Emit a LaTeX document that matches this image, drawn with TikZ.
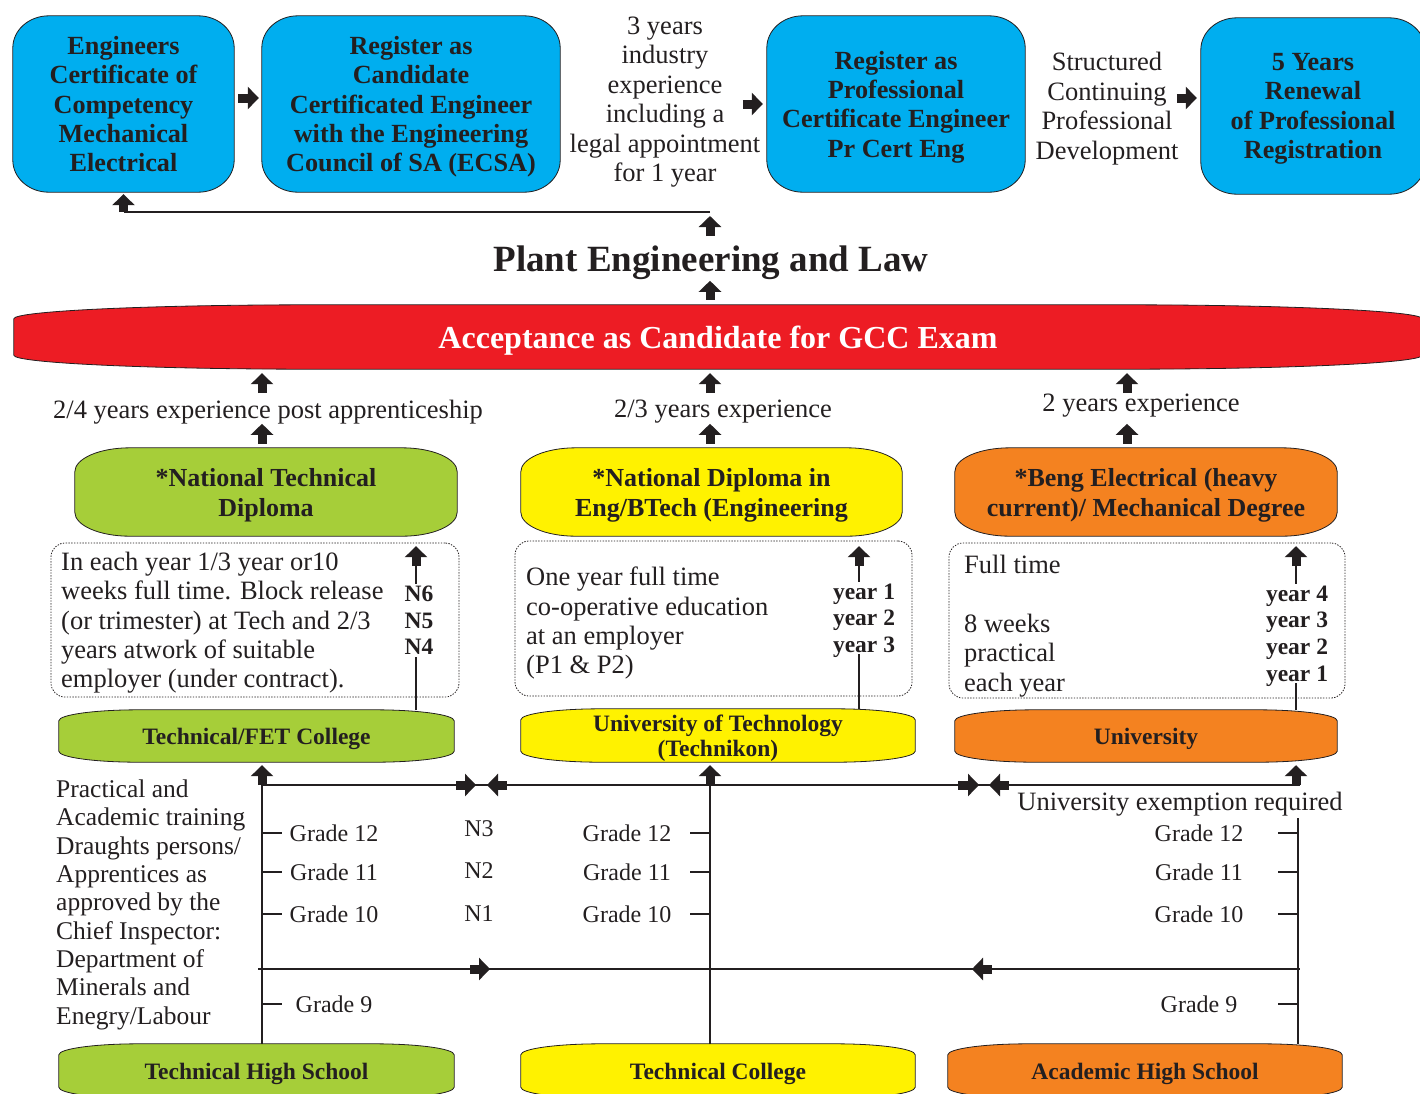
\documentclass[tikz,border=0pt]{standalone}
\usepackage{fontspec}
\setmainfont{Liberation Serif}
\usetikzlibrary{arrows.meta,calc,backgrounds}
\definecolor{ecsablue}{RGB}{0,174,239}
\definecolor{ntdgreen}{RGB}{166,206,57}
\definecolor{ndipyellow}{RGB}{255,242,0}
\definecolor{bengorange}{RGB}{244,130,32}
\definecolor{gccred}{RGB}{237,28,36}
\definecolor{ink}{RGB}{35,31,32}

\begin{document}
\begin{tikzpicture}
	[x=1pt,y=1pt,every node/.style={text=ink,inner sep=0pt,text depth=0pt},
	bodytext/.style={font=\fontsize{26.5}{29.5}\selectfont},
	boldtext/.style={font=\fontsize{26.2}{29.3}\selectfont\bfseries,align=center},
	smallbold/.style={font=\fontsize{23.5}{26.7}\selectfont\bfseries,align=center},
	grade/.style={font=\fontsize{24}{28}\selectfont},
	link/.style={draw=ink,line width=1.4pt},
	blk/.style={draw=ink,line width=9pt,-{Triangle[length=11pt,width=22pt]}},
	dotbox/.style={draw=ink,line width=0.8pt,dash pattern=on 1.4pt off 1.4pt,rounded corners=14pt}]
	\useasboundingbox (0,0) rectangle (1420,-1093);
	
	% registration row
	\node[boldtext,minimum width=221pt,minimum height=176pt] (b1) at (123.5,-104) {Engineers\\Certificate of\\Competency\\Mechanical\\Electrical};
	\node[boldtext,minimum width=298pt,minimum height=176pt] (b2) at (411,-104) {Register as\\Candidate\\Certificated Engineer\\with the Engineering\\Council of SA (ECSA)};
	\node[bodytext,align=center] (exp3) at (665,-99) {3 years\\industry\\experience\\including a\\legal appointment\\for 1 year};
	\node[boldtext,minimum width=258pt,minimum height=176pt] (b3) at (896,-104) {Register as\\Professional\\Certificate Engineer\\Pr Cert Eng};
	\node[bodytext,align=center] (cpd) at (1107,-106) {Structured\\Continuing\\Professional\\Development};
	\node[boldtext,minimum width=224pt,minimum height=176pt] (b4) at (1313,-106) {5 Years\\Renewal\\of Professional\\Registration};
	
	\node[font=\fontsize{37}{40}\selectfont\bfseries] (ttl) at (711,-259) {Plant Engineering and Law};
	\node[font=\fontsize{32}{36}\selectfont\bfseries,text=white,minimum width=1408pt,minimum height=64pt] (gcc) at (718,-337) {Acceptance as Candidate for GCC Exam};
	
	\node[bodytext] (e1) at (268,-409) {2/4 years experience post apprenticeship};
	\node[bodytext] (e2) at (723,-409) {2/3 years experience};
	\node[bodytext] (e3) at (1141,-403) {2 years experience};
	
	% qualifications
	\node[boldtext,font=\fontsize{26}{30}\selectfont\bfseries,minimum width=382pt,minimum height=88pt] (ntd) at (266,-492) {*National Technical\\Diploma};
	\node[boldtext,font=\fontsize{26}{30}\selectfont\bfseries,minimum width=381pt,minimum height=88pt] (ndip) at (711.5,-492) {*National Diploma in\\Eng/BTech (Engineering};
	\node[boldtext,font=\fontsize{26}{30}\selectfont\bfseries,minimum width=382pt,minimum height=88pt] (beng) at (1146,-492) {*Beng Electrical (heavy\\current)/ Mechanical Degree};
	
	\node[dotbox,minimum width=408pt,minimum height=154pt] (d1) at (255,-620) {};
	\node[dotbox,minimum width=397pt,minimum height=155pt] (d2) at (713.5,-618.5) {};
	\node[dotbox,minimum width=396pt,minimum height=155pt] (d3) at (1147,-620.5) {};
	\node[font=\fontsize{26.5}{29.3}\selectfont,align=left,anchor=west] (t1) at (61,-620) {In each year 1/3 year or10\\weeks full time. Block release\\(or trimester) at Tech and 2/3\\years atwork of suitable\\employer (under contract).};
	\node[font=\fontsize{26.5}{29.3}\selectfont,align=left,anchor=west] (t2) at (526,-620.5) {One year full time\\co-operative education\\at an employer\\(P1 \& P2)};
	\node[font=\fontsize{26.5}{29.5}\selectfont,align=left,anchor=west] (t3) at (964,-623) {Full time\\\mbox{}\\8 weeks\\practical\\each year};
	
	% institutions
	\node[smallbold,minimum width=395pt,minimum height=52pt] (fet) at (256.5,-736) {Technical/FET College};
	\node[smallbold,font=\fontsize{23.5}{25}\selectfont\bfseries,minimum width=394pt,minimum height=53pt] (uot) at (718,-735.5) {University of Technology\\(Technikon)};
	\node[smallbold,minimum width=382pt,minimum height=52pt] (uni) at (1146,-736) {University};
	
	\node[smallbold,minimum width=395pt,minimum height=54pt] (ths) at (256.5,-1071) {Technical High School};
	\node[smallbold,minimum width=394pt,minimum height=54pt] (tc) at (718,-1071) {Technical College};
	\node[smallbold,minimum width=394pt,minimum height=54pt] (ahs) at (1145,-1071) {Academic High School};
	
	\node[font=\fontsize{25.5}{28.3}\selectfont,align=left,anchor=west] (lt) at (56,-902) {Practical and\\Academic training\\Draughts persons/\\Apprentices as\\approved by the\\Chief Inspector:\\Department of\\Minerals and\\Enegry/Labour};
	\node[font=\fontsize{26.5}{29.5}\selectfont] (uex) at (1180,-801) {University exemption required};
	
	\begin{scope}[on background layer]
		\foreach \n/\c/\rx/\ry in {b1/ecsablue/36/32,b2/ecsablue/36/32,b3/ecsablue/36/32,b4/ecsablue/36/32,
			gcc/gccred/300/14,ntd/ntdgreen/55/24,ndip/ndipyellow/55/24,beng/bengorange/55/24,
			fet/ntdgreen/80/11,uot/ndipyellow/80/11,uni/bengorange/80/11,
			ths/ntdgreen/80/11,tc/ndipyellow/80/11,ahs/bengorange/80/11}
		\draw[draw=ink,line width=0.8pt,fill=\c] ([xshift=\rx pt]\n.north west) -- ([xshift=-\rx pt]\n.north east)
			arc[start angle=90,end angle=0,x radius=\rx pt,y radius=\ry pt] -- ([yshift=\ry pt]\n.south east)
			arc[start angle=0,end angle=-90,x radius=\rx pt,y radius=\ry pt] -- ([xshift=\rx pt]\n.south west)
			arc[start angle=270,end angle=180,x radius=\rx pt,y radius=\ry pt] -- ([yshift=-\ry pt]\n.north west)
			arc[start angle=180,end angle=90,x radius=\rx pt,y radius=\ry pt] -- cycle;
	\end{scope}
	
	\coordinate (c1) at (262,0);
	\coordinate (c2) at (710,0);
	\coordinate (c3) at (1127,0);
	\coordinate (c4) at (416,0);
	\coordinate (c5) at (859,0);
	\coordinate (c6) at (1296,0);
	\coordinate (c7) at (1298,0);
	\coordinate (j1) at (710,-212);
	\coordinate (h1) at (262,-785);
	\coordinate (h2) at (1300,-785);
	\coordinate (l1) at (258,-969);
	\coordinate (l2) at (1300,-969);
	
	% arrows
	\draw[blk] ($(b1.east)+(4,6)$) -- ($(b2.west)+(-3,6)$);
	\draw[blk] ($(b3.west)+(-24,0)$) -- ($(b3.west)+(-4,0)$);
	\draw[blk] ($(b4.west)+(-24,8)$) -- ($(b4.west)+(-4,8)$);
	\draw[blk] ($(j1)+(0,-24)$) -- ($(j1)+(0,-4)$);
	\draw[link] (j1) -- (j1 -| b1.south);
	\draw[blk] (j1 -| b1.south) -- ($(b1.south)+(0,-2)$);
	\draw[blk] ($(gcc.north -| c2)+(0,5)$) -- ($(gcc.north -| c2)+(0,24)$);
	
	\foreach \b/\c in {ntd/c1,ndip/c2,beng/c3}{
		\draw[blk] ($(\b.north -| \c)+(0,4)$) -- ($(\b.north -| \c)+(0,24)$);
		\draw[blk] ($(gcc.south -| \c)+(0,-24)$) -- ($(gcc.south -| \c)+(0,-4)$);
	}
	\foreach \lo/\up/\c in {fet/ntd/c4,uot/ndip/c5,uni/beng/c6}{
		\draw[link] (\lo.north -| \c) -- ($(\up.south -| \c)+(0,-28)$);
		\draw[blk] ($(\up.south -| \c)+(0,-30)$) -- ($(\up.south -| \c)+(0,-10)$);
	}
	\node[smallbold,fill=white,inner sep=2pt] (nlev) at (419,-620.5) {N6\\N5\\N4};
	\node[smallbold,fill=white,inner sep=2pt] (ylev) at (864,-618) {year 1\\year 2\\year 3};
	\node[smallbold,fill=white,inner sep=2pt] (ulev) at (1297,-633.5) {year 4\\year 3\\year 2\\year 1};
	
	\draw[link] (h1) -- (h2);
	\draw[link] (l1) -- (l2);
	\draw[link] (ths.north -| c1) -- (h1 -| c1);
	\draw[blk] (h1 -| c1) -- ($(fet.south -| c1)+(0,-3)$);
	\draw[link] (tc.north -| c2) -- (h1 -| c2);
	\draw[blk] (h1 -| c2) -- ($(uot.south -| c2)+(0,-3)$);
	\draw[blk] (h1 -| c6) -- ($(uni.south -| c6)+(0,-3)$);
	\draw[link] (ahs.north -| c7) -- ($(uex.south -| c7)+(0,-8)$);
	
	\draw[blk] ($(h1)+(194,0)$) -- ++(20,0);
	\draw[blk] ($(h1)+(245,0)$) -- ++(-20,0);
	\draw[blk] ($(h1)+(696,0)$) -- ++(21,0);
	\draw[blk] ($(h1)+(747,0)$) -- ++(-20,0);
	\draw[blk] ($(l1)+(212,0)$) -- ++(20,0);
	\draw[blk] ($(l1)+(734,0)$) -- ++(-20,0);
	
	% grades
	\foreach \g/\y in {12/833,11/872,10/914,9/1004}{
		\node[grade] (gl\g) at (334,-\y) {Grade \g};
		\draw[link] (c1 |- gl\g) -- ++(20,0);
		\node[grade] (gr\g) at (1199,-\y) {Grade \g};
		\draw[link] (c7 |- gr\g) -- ++(-20,0);
	}
	\foreach \g/\y in {12/833,11/872,10/914}{
		\node[grade] (gm\g) at (627,-\y) {Grade \g};
		\draw[link] (c2 |- gm\g) -- ++(-20,0);
	}
	\foreach \n/\y in {3/829,2/871,1/914}
		\node[grade] (n\n) at (479,-\y) {N\n};
\end{tikzpicture}
\end{document}
